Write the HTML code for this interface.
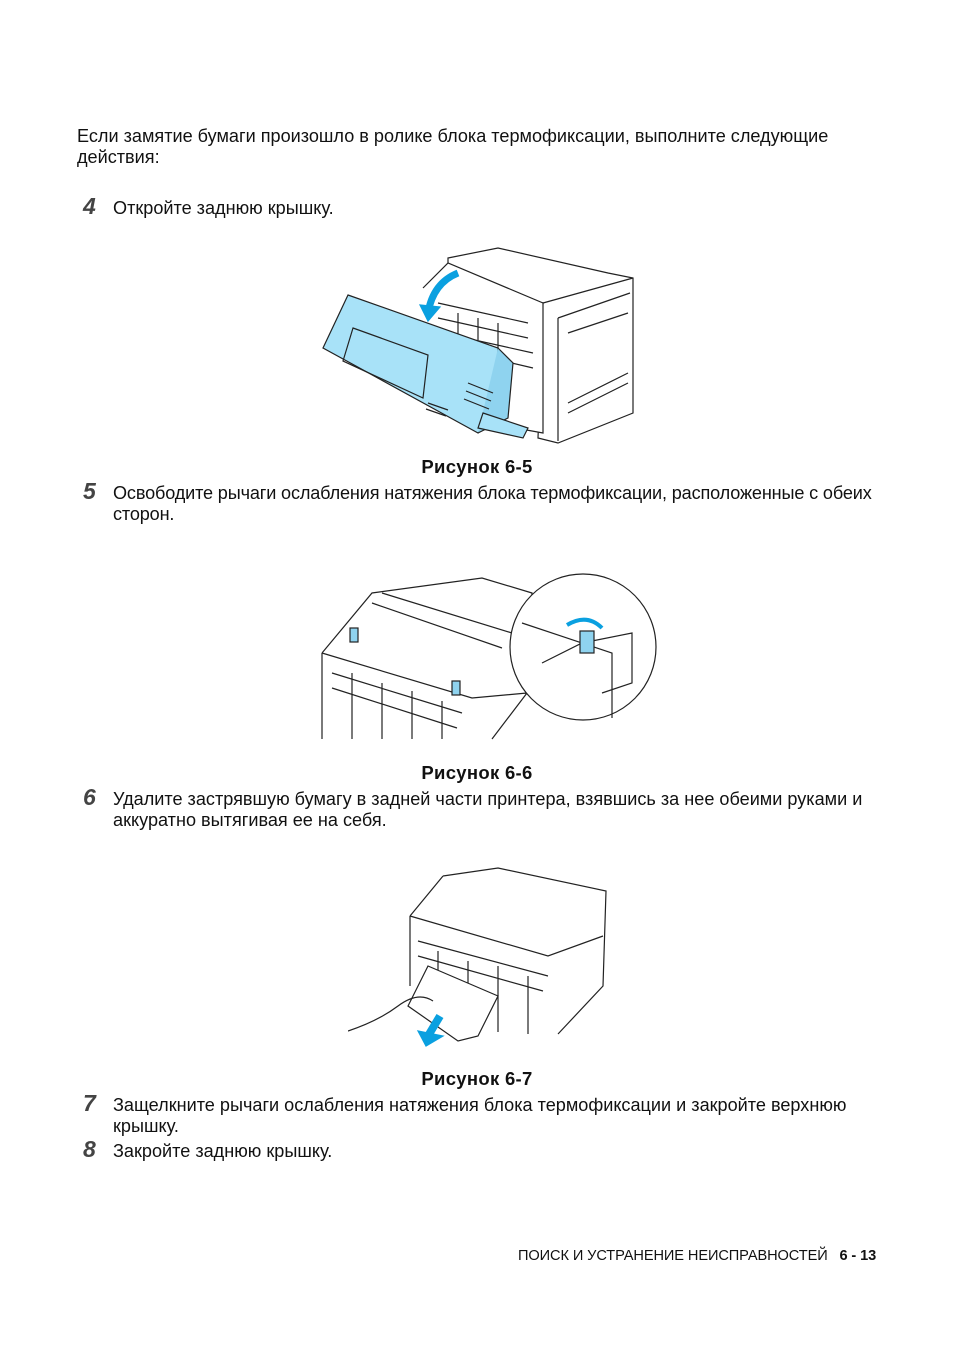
<!DOCTYPE html>
<html><head><meta charset="utf-8">
<style>
body{margin:0;background:#fff;}
#p{position:relative;width:954px;height:1351px;font-family:"Liberation Sans",sans-serif;color:#111;font-size:18.1px;}
.t{position:absolute;line-height:21px;white-space:nowrap;}
.n{position:absolute;font-weight:bold;font-style:italic;font-size:23px;color:#444;}
.c{position:absolute;width:954px;text-align:center;font-weight:bold;font-size:18.5px;letter-spacing:0.3px;}
svg{position:absolute;}
</style></head><body><div id="p">
<div class="t" style="left:77px;top:126px">Если замятие бумаги произошло в ролике блока термофиксации, выполните следующие<br>действия:</div>
<div class="n" style="left:83px;top:193px">4</div>
<div class="t" style="left:113px;top:198px">Откройте заднюю крышку.</div>

<svg style="left:318px;top:243px" width="320" height="202" viewBox="0 0 320 202" fill="none" stroke="#222" stroke-width="1.2">
<path d="M130 15 L180 5 L290 30 L315 35 L315 170 L240 200 L220 195 L225 60 L130 40 Z" fill="#fff"/>
<path d="M225 60 L315 35 M240 75 L312 50 M240 75 L240 198 M250 90 L310 70 M250 160 L310 130 M250 170 L310 140"/>
<path d="M105 45 L130 20 L225 60 L225 190 L170 180" fill="#fff"/>
<path d="M120 60 L210 80 M120 75 L210 95 M125 90 L215 110 M130 105 L215 125 M140 70 L140 110 M160 75 L160 115 M180 80 L180 120"/>
<path d="M30 52 L180 105 L180 165 L160 190 L5 105 Z" fill="#a8e2f8"/>
<path d="M180 105 L195 120 L190 175 L160 190" fill="#8fd3ef"/>
<path d="M35 85 L110 112 L105 155 L25 118 Z"/>
<path d="M150 140 L175 150 M148 148 L173 158 M146 156 L171 166 M110 160 L130 167 M108 166 L128 173"/>
<path d="M165 170 L210 185 L205 195 L160 185 Z" fill="#a8e2f8"/>
<path d="M140 30 Q115 40 110 70" stroke="#0aa0e0" stroke-width="7"/>
<path d="M102 62 L110 78 L122 64 Z" fill="#0aa0e0" stroke="#0aa0e0"/>
</svg>
<div class="c" style="top:456px">Рисунок 6-5</div>

<div class="n" style="left:83px;top:478px">5</div>
<div class="t" style="left:113px;top:483px;letter-spacing:-0.15px">Освободите рычаги ослабления натяжения блока термофиксации, расположенные с обеих<br>сторон.</div>

<svg style="left:312px;top:573px" width="348" height="170" viewBox="0 0 348 170" fill="none" stroke="#222" stroke-width="1.2">
<path d="M10 80 L60 20 L170 5 L220 20 L215 120 L180 166 M10 80 L10 166 M10 80 L160 125 L215 120"/>
<path d="M20 100 L150 140 M20 115 L145 155 M40 100 L40 166 M70 110 L70 166 M100 118 L100 166 M130 128 L130 166"/>
<path d="M70 20 L200 60 M60 30 L190 75"/>
<circle cx="271" cy="74" r="73" fill="#fff"/>
<path d="M210 50 L300 80 L300 145 M230 90 L270 70 L320 60 L320 110 L290 120"/>
<rect x="38" y="55" width="8" height="14" fill="#8fd3ef"/>
<rect x="140" y="108" width="8" height="14" fill="#8fd3ef"/>
<rect x="268" y="58" width="14" height="22" fill="#8fd3ef"/>
<path d="M255 52 Q275 40 290 55" stroke="#0aa0e0" stroke-width="4"/>
</svg>
<div class="c" style="top:762px">Рисунок 6-6</div>

<div class="n" style="left:83px;top:784px">6</div>
<div class="t" style="left:113px;top:789px">Удалите застрявшую бумагу в задней части принтера, взявшись за нее обеими руками и<br>аккуратно вытягивая ее на себя.</div>

<svg style="left:348px;top:866px" width="260" height="182" viewBox="0 0 260 182" fill="none" stroke="#222" stroke-width="1.2">
<path d="M95 10 L150 2 L258 25 L255 120 L210 168 M62 50 L95 10 M62 50 L62 120 M62 50 L200 90 L255 70"/>
<path d="M70 75 L200 110 M70 90 L195 125 M90 85 L90 150 M120 95 L120 160 M150 100 L150 166 M180 110 L180 168"/>
<path d="M80 100 L150 130 L130 170 L110 175 L60 140 Z" fill="#fff"/>
<path d="M0 165 Q30 155 50 140 Q70 125 85 135" />
<path d="M92 150 L80 170" stroke="#0aa0e0" stroke-width="8"/>
<path d="M70 165 L78 180 L95 170 Z" fill="#0aa0e0" stroke="#0aa0e0"/>
</svg>
<div class="c" style="top:1068px">Рисунок 6-7</div>

<div class="n" style="left:83px;top:1090px">7</div>
<div class="t" style="left:113px;top:1095px">Защелкните рычаги ослабления натяжения блока термофиксации и закройте верхнюю<br>крышку.</div>
<div class="n" style="left:83px;top:1136px">8</div>
<div class="t" style="left:113px;top:1141px">Закройте заднюю крышку.</div>

<div class="t" style="left:518px;top:1246px;font-size:14.6px;letter-spacing:-0.1px">ПОИСК И УСТРАНЕНИЕ НЕИСПРАВНОСТЕЙ &nbsp;&nbsp;<b>6 - 13</b></div>
</div></body></html>
